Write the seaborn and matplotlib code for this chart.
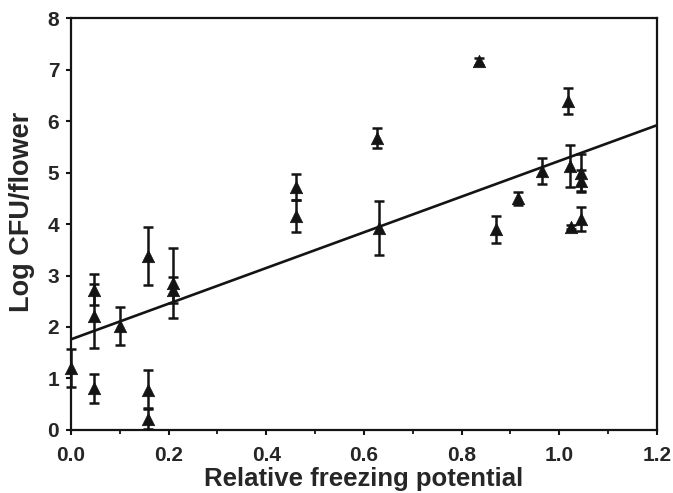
import matplotlib
matplotlib.use("Agg")
import matplotlib.pyplot as plt
from matplotlib.ticker import MultipleLocator
import seaborn as sns
import pandas as pd

# Data
freeze = [0.00, 0.047, 0.047, 0.047, 0.10, 0.158, 0.158, 0.158, 0.209, 0.209,
          0.46, 0.46, 0.63, 0.626, 0.836, 0.87, 0.916, 0.964, 1.017, 1.022,
          1.024, 1.044, 1.044, 1.044]
log_cfu = [1.20, 2.72, 2.22, 0.81, 2.02, 3.38, 0.78, 0.22, 2.85, 2.72,
           4.72, 4.16, 3.92, 5.67, 7.16, 3.90, 4.50, 5.03, 6.39, 5.13,
           3.95, 5.00, 4.84, 4.10]
err = [0.37, 0.30, 0.62, 0.28, 0.37, 0.57, 0.38, 0.20, 0.68, 0.25,
       0.25, 0.31, 0.52, 0.20, 0.06, 0.26, 0.12, 0.25, 0.26, 0.40,
       0.04, 0.36, 0.22, 0.24]

fit_x = [0.0, 1.2]
fit_y = [1.76, 5.92]

x_ticks = [0.0, 0.2, 0.4, 0.6, 0.8, 1.0, 1.2]
x_tick_labels = ["0.0", "0.2", "0.4", "0.6", "0.8", "1.0", "1.2"]
y_ticks = [0, 1, 2, 3, 4, 5, 6, 7, 8]

df = pd.DataFrame({"x": freeze, "y": log_cfu, "e": err})
fit = pd.DataFrame({"x": fit_x, "y": fit_y})

sns.set_style("white")
plt.rcParams["font.family"] = ["Liberation Sans", "DejaVu Sans"]
plt.rcParams["font.weight"] = "bold"

ink = "#141414"

fig = plt.figure(figsize=(6.73, 4.93), dpi=100)
ax = fig.add_axes([0.1055, 0.128, 0.8705, 0.835])

ax.errorbar(df["x"], df["y"], yerr=df["e"], fmt="none", ecolor=ink,
            elinewidth=1.8, capsize=3.3, capthick=1.8, clip_on=False, zorder=2)
sns.scatterplot(data=df, x="x", y="y", marker="^", s=80, color=ink,
                edgecolor=ink, linewidth=0.5, ax=ax, zorder=3, clip_on=False)
sns.lineplot(data=fit, x="x", y="y", color=ink, linewidth=1.9, ax=ax, zorder=2)

ax.set_xlim(0, 1.2)
ax.set_ylim(0, 8)
ax.set_xticks(x_ticks)
ax.set_xticklabels(x_tick_labels)
ax.set_yticks(y_ticks)
ax.xaxis.set_minor_locator(MultipleLocator(0.1))

for s in ax.spines.values():
    s.set_visible(True)
    s.set_linewidth(1.6)
    s.set_color(ink)

ax.tick_params(axis="both", which="major", direction="out", length=3.5, width=1.5,
               color=ink, labelsize=15, bottom=True, left=True)
ax.tick_params(axis="x", which="major", pad=8)
ax.tick_params(axis="y", which="major", pad=5)
ax.tick_params(axis="x", which="minor", direction="out", length=3, width=1.3,
               color=ink, bottom=True)
for lbl in ax.get_xticklabels() + ax.get_yticklabels():
    lbl.set_fontweight("bold")

ax.set_xlabel("Relative freezing potential", fontsize=18.5, fontweight="bold")
ax.set_ylabel("Log CFU/flower", fontsize=19.5, fontweight="bold")
ax.xaxis.set_label_coords(0.5, -0.09)
ax.yaxis.set_label_coords(-0.062, 0.53)

fig.savefig("out.png", dpi=100)
